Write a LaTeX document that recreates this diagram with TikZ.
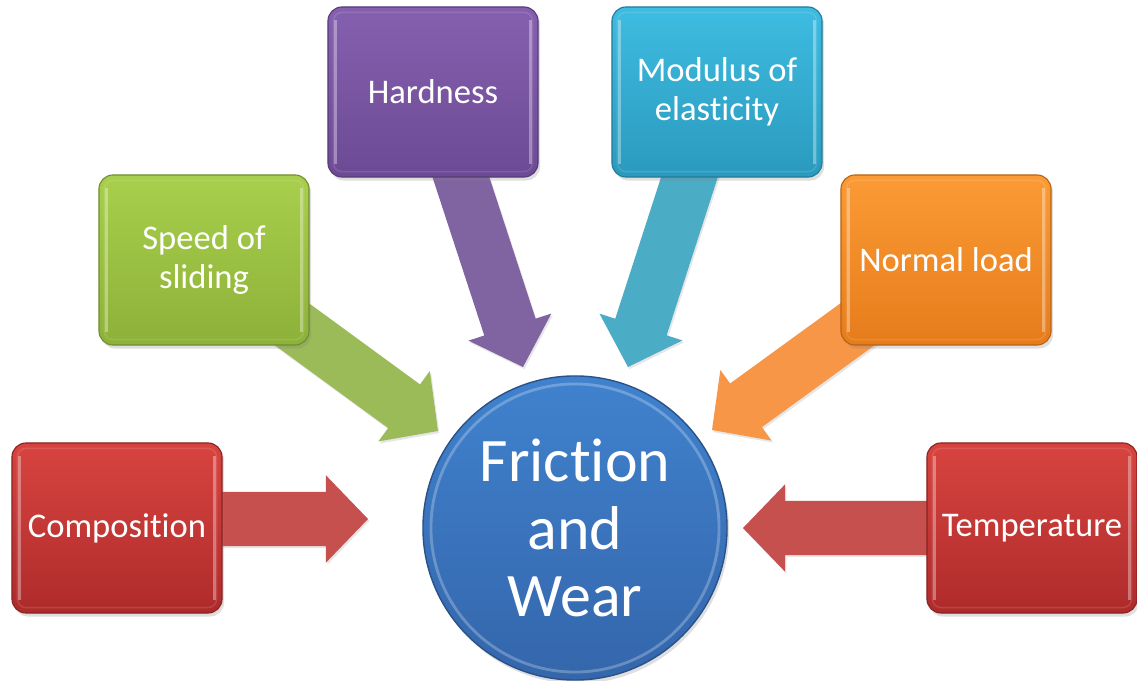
\documentclass[tikz,border=0pt]{standalone}
\usepackage{fontspec}
\setmainfont{Carlito}[Ligatures=NoCommon]
\usetikzlibrary{calc,backgrounds,shadows}

\definecolor{redtop}{HTML}{D8443F}
\definecolor{redbot}{HTML}{AE2B2B}
\definecolor{redarr}{HTML}{C5504E}
\definecolor{greentop}{HTML}{A8CF4C}
\definecolor{greenbot}{HTML}{8DB139}
\definecolor{greenarr}{HTML}{9BBB59}
\definecolor{purpletop}{HTML}{8660B0}
\definecolor{purplebot}{HTML}{6C4A94}
\definecolor{purplearr}{HTML}{8064A2}
\definecolor{tealtop}{HTML}{3EBCE1}
\definecolor{tealbot}{HTML}{2A9ABD}
\definecolor{tealarr}{HTML}{4BACC6}
\definecolor{orangetop}{HTML}{FB9B35}
\definecolor{orangebot}{HTML}{E67C1B}
\definecolor{orangearr}{HTML}{F79646}
\definecolor{bluetop}{HTML}{4082CE}
\definecolor{bluebot}{HTML}{3466AB}

% fat arrow from #1 to the tip #2, filled with #3
\newcommand{\fatarrow}[3]{%
  \coordinate (#2-b) at ($(#2)!1.05cm!(#1)$);
  \fill[#3, drop shadow={shadow xshift=1pt, shadow yshift=-1.5pt, opacity=.2}]
    ($(#1)!0.675cm!90:(#2)$) -- ($(#2-b)!0.675cm!90:(#2)$)
    -- ($(#2-b)!1.09cm!90:(#2)$) -- (#2)
    -- ($(#2-b)!1.09cm!-90:(#2)$) -- ($(#2-b)!0.675cm!-90:(#2)$)
    -- ($(#1)!0.675cm!-90:(#2)$) -- cycle;
}

\begin{document}
\begin{tikzpicture}[x=0.025cm, y=-0.025cm,
    factor/.style={rounded corners=10pt, minimum width=5.25cm, minimum height=4.25cm,
      align=center, text=white, inner sep=0pt, line width=0.8pt,
      font=\fontsize{24.6}{27.5}\selectfont,
      drop shadow={shadow xshift=1.5pt, shadow yshift=-2.5pt, opacity=.25}},
    redbox/.style={factor, top color=redtop, bottom color=redbot, draw=redbot!80!black},
    greenbox/.style={factor, top color=greentop, bottom color=greenbot, draw=greenbot!80!black},
    purplebox/.style={factor, top color=purpletop, bottom color=purplebot, draw=purplebot!80!black},
    tealbox/.style={factor, top color=tealtop, bottom color=tealbot, draw=tealbot!80!black},
    orangebox/.style={factor, top color=orangetop, bottom color=orangebot, draw=orangebot!80!black}]
    \useasboundingbox (0, 0) rectangle (1137, 681);

    % Centre
    \node[circle, minimum size=7.6cm, inner sep=0pt, top color=bluetop, bottom color=bluebot,
      draw=bluebot!80!black, line width=1pt, text=white, align=center,
      font=\fontsize{44}{47.7}\selectfont,
      drop shadow={shadow xshift=1.5pt, shadow yshift=-2.5pt, opacity=.25}]
      (core) at (575, 528) {Friction\\and\\Wear};
    \draw[white, opacity=.25, line width=2pt] (core) circle (3.6cm);

    % Factors
    \node[redbox] (comp) at (117, 528) {Composition};
    \node[greenbox] (speed) at (204, 260) {Speed of\\sliding};
    \node[purplebox] (hard) at (433, 92) {Hardness};
    \node[tealbox] (modul) at (717, 92) {Modulus of\\elasticity};
    \node[orangebox] (load) at (946, 260) {Normal load};
    \node[redbox] (temp) at (1032, 528) {Temperature};

    % bevel on the box sides
    \foreach \b in {comp, speed, hard, modul, load, temp} {
      \draw[white, opacity=.35, line width=2.5pt]
        ([shift={(0.2cm,-0.35cm)}]\b.north west) -- ([shift={(0.2cm,0.35cm)}]\b.south west);
      \draw[white, opacity=.35, line width=2.5pt]
        ([shift={(-0.2cm,-0.35cm)}]\b.north east) -- ([shift={(-0.2cm,0.35cm)}]\b.south east);
      \draw[white, opacity=.12, line width=1pt, rounded corners=6pt]
        ([shift={(0.15cm,-0.15cm)}]\b.north west) rectangle ([shift={(-0.15cm,0.15cm)}]\b.south east);
    }

    % Arrows, behind the boxes
    \coordinate (comp-tip) at (368, 519);
    \coordinate (comp-tail) at (comp |- comp-tip);
    \coordinate (speed-tip) at (438, 431);
    \coordinate (hard-tip) at (523, 367);
    \coordinate (modul-tip) at (628, 367);
    \coordinate (load-tip) at (712, 430);
    \coordinate (temp-tip) at (743, 528);
    \begin{scope}[on background layer]
      \fatarrow{comp-tail}{comp-tip}{redarr}
      \fatarrow{speed}{speed-tip}{greenarr}
      \fatarrow{hard}{hard-tip}{purplearr}
      \fatarrow{modul}{modul-tip}{tealarr}
      \fatarrow{load}{load-tip}{orangearr}
      \fatarrow{temp}{temp-tip}{redarr}
    \end{scope}
\end{tikzpicture}
\end{document}
